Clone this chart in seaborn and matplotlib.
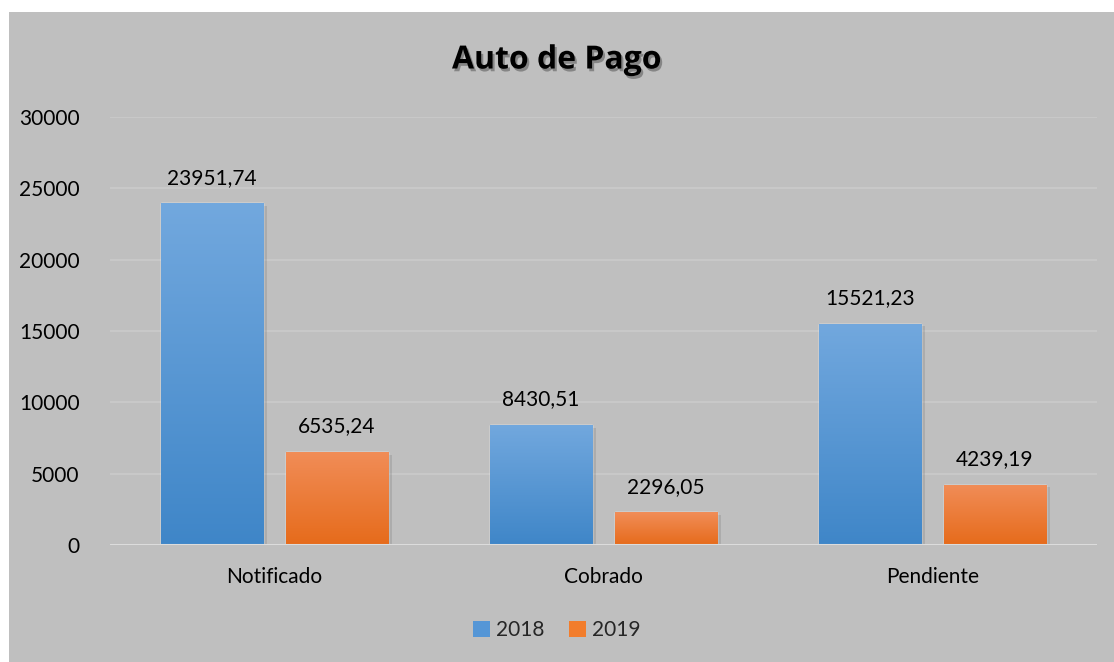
import matplotlib.pyplot as plt
import matplotlib.patheffects as pe
import numpy as np
import pandas as pd
import seaborn as sns
from matplotlib.colors import LinearSegmentedColormap
from matplotlib.patches import Rectangle

categories = ["Notificado", "Cobrado", "Pendiente"]
years = ["2018", "2019"]
values_2018 = [23951.74, 8430.51, 15521.23]
values_2019 = [6535.24, 2296.05, 4239.19]
y_ticks = [0, 5000, 10000, 15000, 20000, 25000, 30000]

BG = "#bfbfbf"
COLORS = {"2018": "#5596d6", "2019": "#f27d2c"}
GRADIENTS = {
    "2018": ("#3f86c8", "#72a8de"),  # bottom -> top
    "2019": ("#e66b1b", "#f18d58"),
}

df = pd.DataFrame(
    {
        "Categoria": categories * 2,
        "Año": [years[0]] * 3 + [years[1]] * 3,
        "Valor": values_2018 + values_2019,
    }
)

sns.set_theme(style="white")
plt.rcParams["font.family"] = ["Lato", "DejaVu Sans"]

fig = plt.figure(figsize=(11.14, 6.62), dpi=100, facecolor="white")
fig.patches.append(
    Rectangle((9 / 1114, 0), 1, 1 - 12 / 662, transform=fig.transFigure,
              facecolor=BG, edgecolor="none", zorder=-10)
)
ax = fig.add_axes([110 / 1114, 1 - 545 / 662, 987 / 1114, 428 / 662])
ax.set_facecolor(BG)

sns.barplot(
    data=df, x="Categoria", y="Valor", hue="Año", order=categories,
    hue_order=years, palette=COLORS, width=0.76, gap=0.18, ax=ax,
    legend=False, saturation=1, zorder=3,
)

ax.set_ylim(0, 30000)
ax.set_xlim(-0.5, 2.5)
ax.set_yticks(y_ticks)
ax.set_yticklabels([str(t) for t in y_ticks])
ax.tick_params(axis="y", length=0, pad=22, labelsize=15, colors="black")
ax.tick_params(axis="x", length=0, pad=16, labelsize=15, colors="black")
ax.set_xlabel("")
ax.set_ylabel("")
for s in ax.spines.values():
    s.set_visible(False)
for t in y_ticks[1:]:
    ax.axhline(t, color="#cbcbcb", lw=1.2, zorder=1)
ax.axhline(0, color="#dcdcdc", lw=2.2, zorder=4)

# gradient fill + soft shadow for every bar, plus value labels
grad = np.linspace(0, 1, 256).reshape(-1, 1)
for container, yr in zip(ax.containers, years):
    cmap = LinearSegmentedColormap.from_list(yr, GRADIENTS[yr])
    for bar in container:
        x0, y0 = bar.get_x(), bar.get_y()
        w, h = bar.get_width(), bar.get_height()
        bar.set_path_effects([
            pe.SimplePatchShadow(offset=(3, -2), shadow_rgbFace="#777777", alpha=0.25),
            pe.Normal(),
        ])
        im = ax.imshow(grad, cmap=cmap, origin="lower", aspect="auto",
                       extent=(x0, x0 + w, y0, y0 + h), zorder=3.5)
        im.set_clip_path(bar)
        label = f"{h:.2f}".replace(".", ",")
        ax.annotate(label, (x0 + w / 2, h), xytext=(0, 11),
                    textcoords="offset points", ha="center", va="bottom",
                    fontsize=15, color="black")
ax.set_xlim(-0.5, 2.5)
ax.set_ylim(0, 30000)

fig.text(0.5, 1 - 60 / 662, "Auto de Pago", ha="center", va="center",
         fontsize=23, fontweight="bold", color="black",
         family=["Open Sans", "DejaVu Sans"],
         path_effects=[pe.withSimplePatchShadow(offset=(1.5, -2), alpha=0.3)])

handles = [Rectangle((0, 0), 1, 1, facecolor=COLORS[y], edgecolor="none")
           for y in years]
fig.legend(handles, years, loc="center", bbox_to_anchor=(0.5, 1 - 630 / 662),
           ncol=2, frameon=False, fontsize=15, handlelength=0.8,
           handleheight=0.8, handletextpad=0.3, columnspacing=1.2)

fig.savefig("out.png", dpi=100, facecolor=fig.get_facecolor())
